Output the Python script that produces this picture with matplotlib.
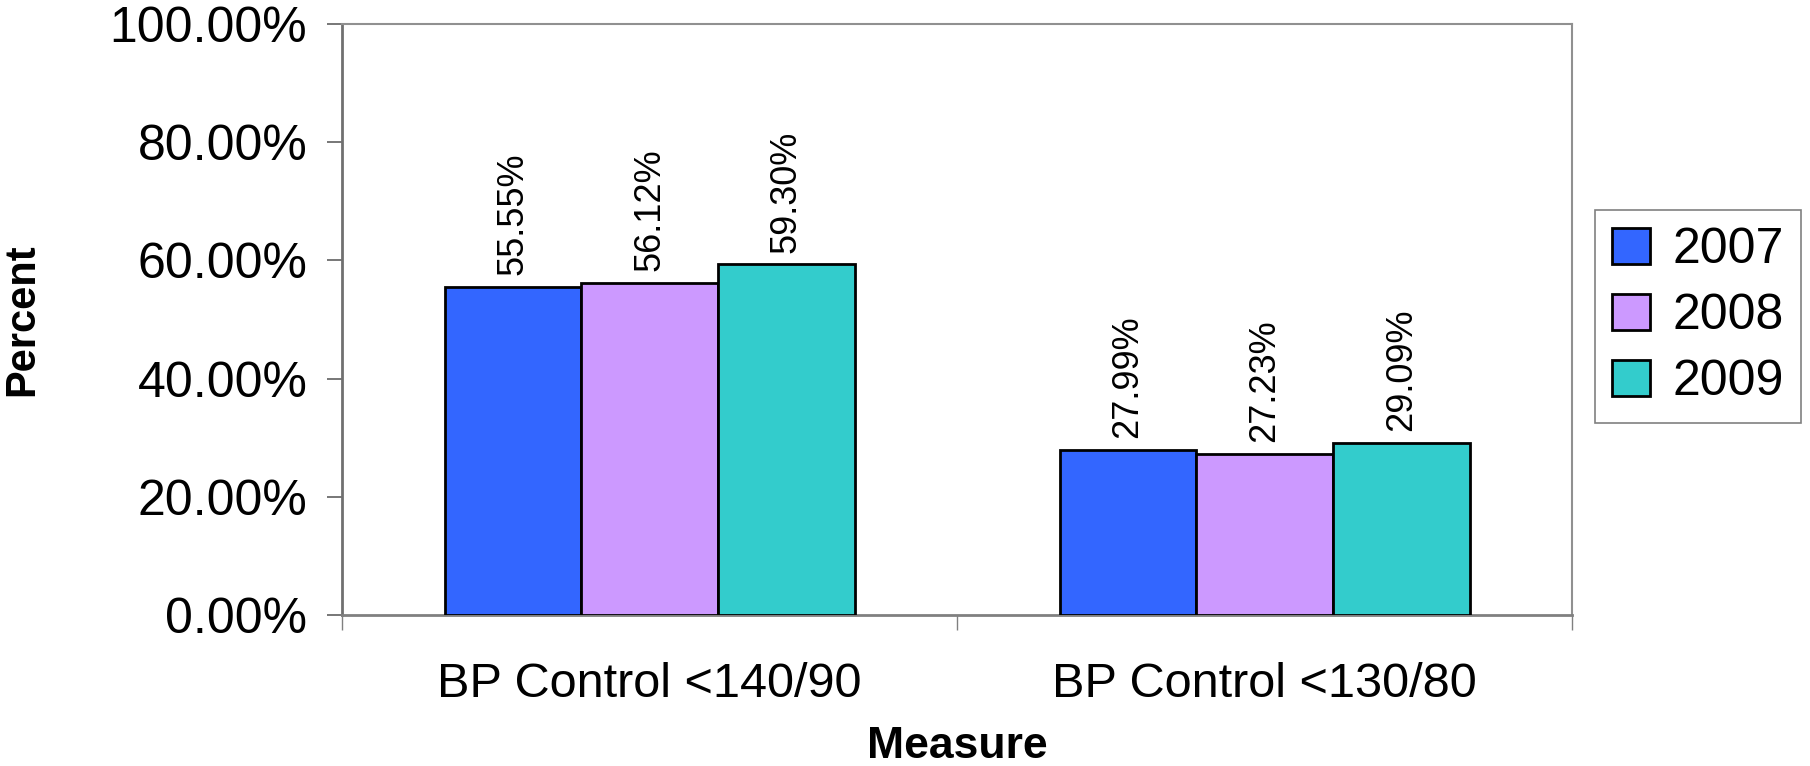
import matplotlib
matplotlib.use('Agg')
import matplotlib.pyplot as plt
from matplotlib.ticker import FuncFormatter, FixedLocator
import numpy as np

plt.rcParams['font.family'] = ['Liberation Sans', 'DejaVu Sans']

categories = ['BP Control <140/90', 'BP Control <130/80']
years = ['2007', '2008', '2009']
values_2007 = [55.55, 27.99]
values_2008 = [56.12, 27.23]
values_2009 = [59.30, 29.09]
colors = ['#3366FF', '#CC99FF', '#33CCCC']


def main():
    fig = plt.figure(figsize=(18.10, 7.66), dpi=100)
    ax = fig.add_axes([0.189, 0.197, 0.6795, 0.772])

    x = np.arange(len(categories))
    width = 0.6667 / 3
    series = [values_2007, values_2008, values_2009]
    for i, (year, vals, c) in enumerate(zip(years, series, colors)):
        pos = x + (i - 1) * width
        bars = ax.bar(pos, vals, width, color=c, edgecolor='black',
                      linewidth=2.0, label=year, zorder=3)
        for b, v in zip(bars, vals):
            ax.text(b.get_x() + b.get_width() / 2, v + 2.0, f'{v:.2f}%',
                    rotation=90, ha='center', va='bottom', fontsize=26)

    ax.set_xlim(-0.5, 1.5)
    ax.set_ylim(0, 100)
    ax.set_yticks(np.arange(0, 101, 20))
    ax.yaxis.set_major_formatter(FuncFormatter(lambda v, p: f'{v:.2f}%'))
    ax.tick_params(axis='y', labelsize=36, length=11, width=1.2,
                   color='#606060', pad=14)

    ax.set_xticks(x)
    ax.set_xticklabels(categories)
    ax.tick_params(axis='x', which='major', length=0, labelsize=35, pad=34)
    ax.xaxis.set_minor_locator(FixedLocator([-0.5, 0.5, 1.5]))
    ax.tick_params(axis='x', which='minor', length=11, width=1.0,
                   color='#808080', direction='out')

    ax.spines['left'].set_color('#707070')
    ax.spines['left'].set_linewidth(2.0)
    ax.spines['bottom'].set_color('#808080')
    ax.spines['bottom'].set_linewidth(2.0)
    ax.spines['top'].set_color('#909090')
    ax.spines['top'].set_linewidth(1.5)
    ax.spines['right'].set_color('#909090')
    ax.spines['right'].set_linewidth(1.5)

    ax.text(-0.26, 0.5, 'Percent', transform=ax.transAxes, rotation=90,
            ha='center', va='center', fontsize=30, fontweight='bold')
    ax.text(0.5, -0.222, 'Measure', transform=ax.transAxes,
            ha='center', va='center', fontsize=32, fontweight='bold')

    leg = fig.legend(loc='center left', bbox_to_anchor=(0.881, 0.587),
                     fontsize=36, frameon=True, fancybox=False,
                     handlelength=0.75, handleheight=0.75, handletextpad=0.45,
                     labelspacing=0.4, borderpad=0.35, borderaxespad=0)
    leg.get_frame().set_edgecolor('#606060')
    leg.get_frame().set_linewidth(1.2)

    fig.savefig('out.png', dpi=100)


if __name__ == '__main__':
    main()
